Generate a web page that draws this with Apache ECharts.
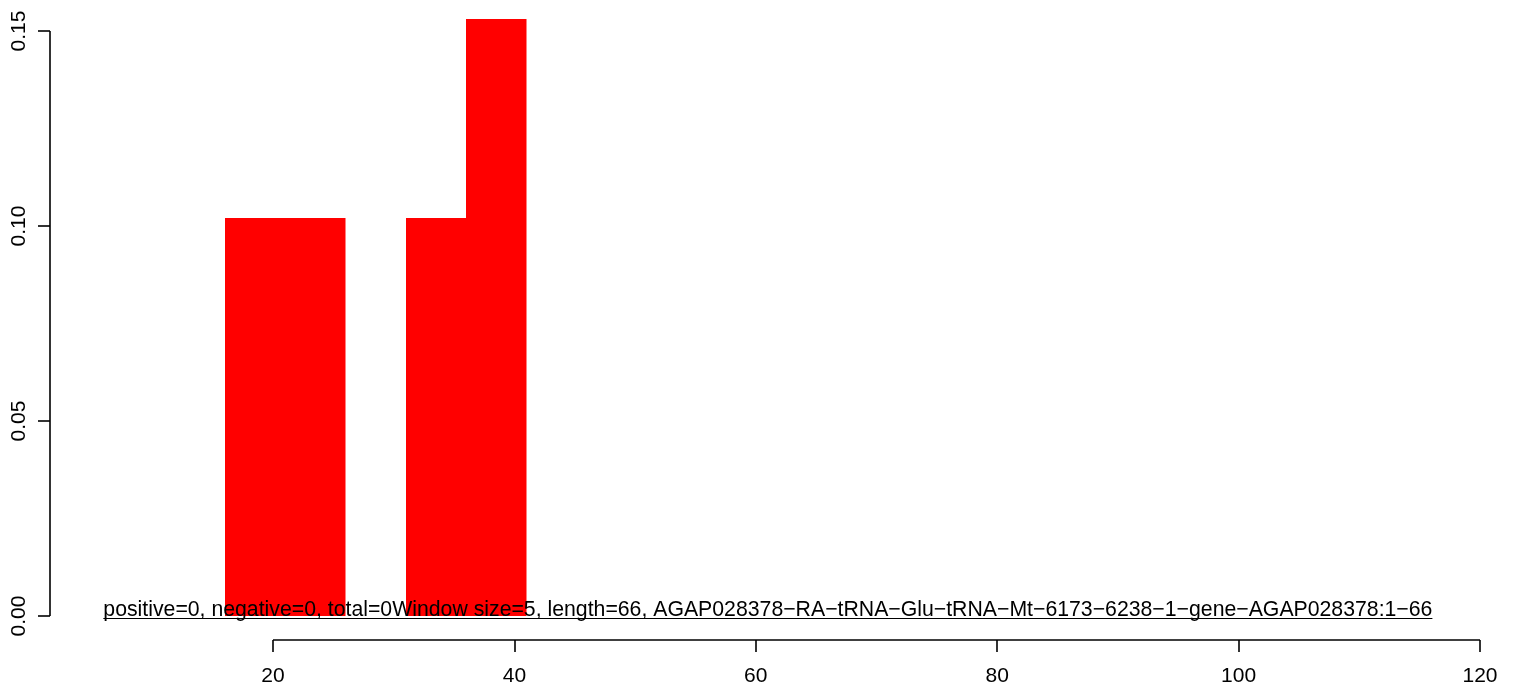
<!DOCTYPE html>
<html><head><meta charset="utf-8">
<script src="https://cdn.jsdelivr.net/npm/echarts@6/dist/echarts.min.js"></script>
<style>html,body{margin:0;padding:0;background:#fff}#c{width:1516px;height:691px}</style>
</head><body><div id="c"></div>
<script>
// ---- data ----
const binStarts = [16, 21, 31, 36];
const binEnds   = [21, 26, 36, 41];
const binValues = [0.102, 0.102, 0.102, 0.153];
const xTicks = [20, 40, 60, 80, 100, 120];
const yTicks = [0, 0.05, 0.10, 0.15];
const annotationText = 'positive=0, negative=0, total=0Window size=5, length=66, AGAP028378\u2212RA\u2212tRNA\u2212Glu\u2212tRNA\u2212Mt\u22126173\u22126238\u22121\u2212gene\u2212AGAP028378:1\u221266';
const annotationPos = [61, 0];

// ---- layout ----
const X_MIN = 1.525, X_MAX = 120, Y_MIN = -0.006154, Y_MAX = 0.157949;
const FONT = '"Liberation Sans", Arial, Helvetica, sans-serif';
const LABEL_SIZE = 21, TEXT_SIZE = 21.25;
const LINE_W = 1.6;

const bins = binStarts.map((s, i) => [s, binEnds[i], binValues[i]]);

const chart = echarts.init(document.getElementById('c'), null, {renderer: 'canvas'});

const measureCtx = document.createElement('canvas').getContext('2d');
measureCtx.font = TEXT_SIZE + 'px ' + FONT;

chart.setOption({
  animation: false,
  backgroundColor: '#ffffff',
  grid: {left: 50, right: 36, top: 0, bottom: 51, containLabel: false},
  xAxis: {
    type: 'value', min: X_MIN, max: X_MAX,
    axisLine: {show: false, onZero: false}, splitLine: {show: false},
    axisTick: {show: true, inside: false, customValues: xTicks, length: 12, lineStyle: {color: '#000', width: LINE_W}},
    axisLabel: {show: true, inside: false, customValues: xTicks, margin: 26, color: '#000', fontSize: LABEL_SIZE, fontFamily: FONT,
      formatter: v => String(v)}
  },
  yAxis: {
    type: 'value', min: Y_MIN, max: Y_MAX,
    axisLine: {show: false, onZero: false}, splitLine: {show: false},
    axisTick: {show: true, inside: false, customValues: yTicks, length: 12, lineStyle: {color: '#000', width: LINE_W}},
    axisLabel: {show: true, customValues: yTicks, margin: 20, rotate: 90, color: '#000', fontSize: LABEL_SIZE, fontFamily: FONT,
      formatter: v => Number(v).toFixed(2)}
  },
  series: [
    {
      type: 'custom', name: 'bins', data: bins,
      encode: {x: [0, 1], y: 2},
      renderItem: (params, api) => {
        const p1 = api.coord([api.value(0), api.value(2)]);
        const p2 = api.coord([api.value(1), 0]);
        const x1 = Math.round(p1[0]), x2 = Math.round(p2[0]);
        const y1 = Math.round(p1[1]), y2 = Math.round(p2[1]);
        return {type: 'rect', shape: {x: x1, y: y1, width: x2 - x1 + 0.5, height: y2 - y1},
          style: {fill: '#ff0000'}};
      },
      silent: true
    },
    {
      type: 'line', name: 'xaxisline', silent: true, symbol: 'none', clip: false,
      data: [[xTicks[0], Y_MIN], [xTicks[xTicks.length - 1], Y_MIN]],
      lineStyle: {color: '#000', width: LINE_W}
    },
    {
      type: 'line', name: 'yaxisline', silent: true, symbol: 'none', clip: false,
      data: [[X_MIN, yTicks[0]], [X_MIN, yTicks[yTicks.length - 1]]],
      lineStyle: {color: '#000', width: LINE_W}
    },
    {
      type: 'custom', name: 'annotation', data: [annotationPos],
      renderItem: (params, api) => {
        const p = api.coord([api.value(0), api.value(1)]);
        const w = measureCtx.measureText(annotationText).width;
        return {type: 'group', children: [
          {type: 'text', x: p[0], y: p[1] + 5, style: {text: annotationText, font: TEXT_SIZE + 'px ' + FONT,
            fill: '#000', align: 'center', verticalAlign: 'bottom'}},
          {type: 'line', shape: {x1: p[0] - w / 2, y1: p[1] + 2.5, x2: p[0] + w / 2, y2: p[1] + 2.5},
            style: {stroke: '#000', lineWidth: 1.2}}
        ]};
      },
      silent: true
    }
  ]
});
</script></body></html>
